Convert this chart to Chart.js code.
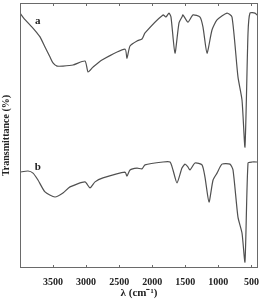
<!DOCTYPE html>
<html>
<head>
<meta charset="utf-8">
<script src="https://cdn.jsdelivr.net/npm/chart.js@4"></script>
<style>
  html, body { margin: 0; padding: 0; background: #fff; }
  #wrap { width: 262px; height: 301px; }
</style>
</head>
<body>
<div id="wrap"><canvas id="chart"></canvas></div>
<script>
// wavenumbers (cm-1) and transmittance (arbitrary %)
const waveA = [4000, 3920, 3818, 3743, 3697, 3622, 3546, 3501, 3440, 3350, 3198, 3017, 2971, 2896, 2760,
  2412, 2382, 2336, 2230, 2155, 2109, 1837, 1792, 1746, 1716, 1656, 1595, 1550, 1535, 1459, 1383,
  1277, 1232, 1171, 1096, 1020, 869, 793, 703, 642, 597, 551, 521, 446, 400];
const transA = [96.2, 93.6, 90.9, 88.7, 87.2, 83.4, 79.6, 77.4, 76.2, 76.2, 76.6, 78.1, 74.0, 75.8, 78.5,
  82.6, 79.2, 83.8, 85.7, 86.4, 88.7, 95.5, 94.7, 96.2, 94.7, 81.1, 92.5, 94.7, 95.5, 92.8, 95.5,
  94.7, 90.9, 81.1, 89.8, 93.6, 96.2, 94.7, 72.1, 63.4, 45.7, 88.7, 96.2, 96.2, 95.1];

const waveB = [4000, 3879, 3803, 3728, 3622, 3471, 3350, 3244, 3017, 2941, 2865, 2745, 2412, 2382, 2336,
  2230, 2155, 2109, 1837, 1731, 1686, 1625, 1550, 1504, 1459, 1429, 1353, 1247, 1202, 1141, 1080,
  1020, 945, 824, 778, 703, 642, 597, 551, 491, 400];
const transB = [36.2, 36.6, 35.8, 33.2, 28.7, 26.8, 28.3, 30.6, 32.5, 30.2, 32.5, 34.0, 36.2, 34.7, 37.0,
  37.7, 37.4, 38.9, 40.0, 40.0, 37.0, 32.1, 37.7, 39.2, 38.1, 37.0, 39.6, 38.9, 34.3, 24.9, 33.2,
  35.8, 39.2, 39.2, 37.0, 19.2, 13.2, 2.3, 39.6, 40.0, 40.0];

const xTicks = [3500, 3000, 2500, 2000, 1500, 1000, 500];
const curveLabels = [{ text: 'a', w: 3730, t: 93 }, { text: 'b', w: 3730, t: 38 }];

const toPts = (xs, ys) => xs.map((x, i) => ({ x: x, y: ys[i] }));

const framePlugin = {
  id: 'frame',
  afterDraw(chart) {
    const { ctx, chartArea: a, scales } = chart;
    ctx.save();
    ctx.strokeStyle = '#6a6a6a';
    ctx.lineWidth = 1;
    ctx.strokeRect(a.left + 0.5, a.top + 0.5, a.right - a.left - 1, a.bottom - a.top - 1);
    // small inner ticks
    xTicks.forEach(v => {
      const x = Math.round(scales.x.getPixelForValue(v)) + 0.5;
      ctx.beginPath();
      ctx.moveTo(x, a.bottom);
      ctx.lineTo(x, a.bottom - 3);
      ctx.moveTo(x, a.top);
      ctx.lineTo(x, a.top + 3);
      ctx.stroke();
    });
    ctx.fillStyle = '#222';
    ctx.font = 'bold 11px "Liberation Serif"';
    ctx.textAlign = 'center';
    ctx.textBaseline = 'middle';
    curveLabels.forEach(l => {
      ctx.fillText(l.text, scales.x.getPixelForValue(l.w), scales.y.getPixelForValue(l.t));
    });
    ctx.restore();
  }
};

new Chart(document.getElementById('chart'), {
  type: 'line',
  data: {
    datasets: [
      { label: 'a', data: toPts(waveA, transA), borderColor: '#505050', borderWidth: 1.2, pointRadius: 0, tension: 0.2, fill: false },
      { label: 'b', data: toPts(waveB, transB), borderColor: '#505050', borderWidth: 1.2, pointRadius: 0, tension: 0.2, fill: false }
    ]
  },
  options: {
    responsive: true,
    maintainAspectRatio: false,
    animation: false,
    layout: { padding: { top: 3, right: 4, left: 0, bottom: 0 } },
    plugins: { legend: { display: false }, tooltip: { enabled: false } },
    scales: {
      x: {
        type: 'linear',
        reverse: true,
        min: 400,
        max: 4000,
        afterBuildTicks: axis => { axis.ticks = xTicks.map(v => ({ value: v })); },
        afterFit: axis => { axis.height = 33; },
        grid: { display: false },
        border: { display: false },
        ticks: { color: '#222', font: { family: 'Liberation Serif', weight: 'bold', size: 10 }, padding: 0, maxRotation: 0, callback: v => String(v) },
        title: { display: true, text: 'λ (cm⁻¹)', color: '#222', font: { family: 'Liberation Serif', weight: 'bold', size: 11 }, padding: { top: 0, bottom: 1 } }
      },
      y: {
        min: 0,
        max: 100,
        afterFit: axis => { axis.width = 20; },
        grid: { display: false },
        border: { display: false },
        ticks: { display: false },
        title: { display: true, text: 'Transmittance (%)', color: '#222', font: { family: 'Liberation Serif', weight: 'bold', size: 10 }, padding: 0 }
      }
    }
  },
  plugins: [framePlugin]
});
</script>
</body>
</html>
